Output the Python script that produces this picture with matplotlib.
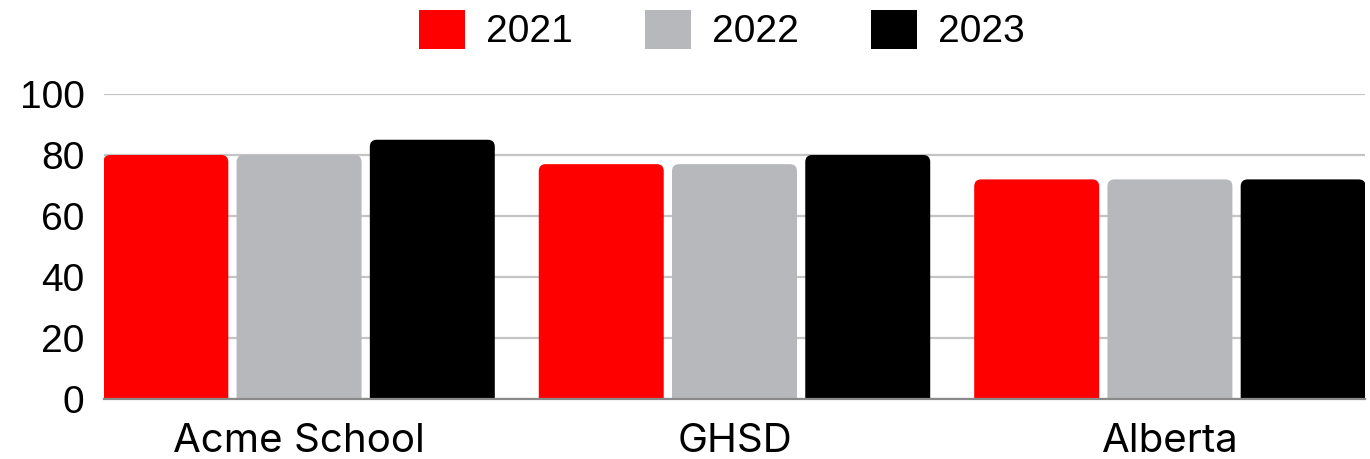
import numpy as np
import matplotlib
matplotlib.use('Agg')
import matplotlib.pyplot as plt
from matplotlib.patches import FancyBboxPatch, Patch

# data
categories = ['Acme School', 'GHSD', 'Alberta']
years = ['2021', '2022', '2023']
vals_2021 = [80, 77, 72]
vals_2022 = [80, 77, 72]
vals_2023 = [85, 80, 72]
colors = ['#ff0000', '#b7b8bb', '#000000']

plt.rcParams['font.family'] = ['Liberation Sans', 'DejaVu Sans']

W, H = 1370, 459
fig = plt.figure(figsize=(W / 100, H / 100), dpi=100)
ax = fig.add_axes([104 / W, 60 / H, 1261 / W, 305 / H])

x = np.arange(len(categories))
step = 0.306
bw = 0.287
series = [vals_2021, vals_2022, vals_2023]

ax.set_xlim(-0.448, 2.448)
ax.set_ylim(0, 100)

# pixel per data unit, for rounded corners
px_x = 1261 / 2.896
px_y = 305 / 100
r = 7 / px_x
aspect = px_x / px_y

for i, vals in enumerate(series):
    bars = ax.bar(x + (i - 1) * step, vals, bw, color=colors[i], alpha=0)
    for b in bars:
        p = FancyBboxPatch((b.get_x(), -10), b.get_width(), b.get_height() + 10,
                           boxstyle=f"round,pad=0,rounding_size={r}",
                           mutation_aspect=aspect, facecolor=colors[i],
                           edgecolor='none', zorder=3)
        ax.add_patch(p)

ax.set_yticks(np.arange(0, 101, 20))
ax.yaxis.grid(True, color='#c4c4c4', linewidth=1.6)
ax.set_axisbelow(True)
for s in ['top', 'right', 'left']:
    ax.spines[s].set_visible(False)
ax.spines['bottom'].set_color('#8a8a8a')
ax.spines['bottom'].set_linewidth(1.6)
ax.spines['bottom'].set_zorder(4)
ax.tick_params(axis='y', length=0, pad=14, labelsize=28)
ax.tick_params(axis='x', length=0, pad=17)
ax.set_xticks(x)
ax.set_xticklabels(categories, fontsize=29, family=['Inter', 'DejaVu Sans'])

handles = [Patch(facecolor=c, edgecolor='none') for c in colors]
fig.legend(handles, years, loc='center', bbox_to_anchor=(722 / W, 1 - 30 / H),
           ncol=3, frameon=False, fontsize=28, handlelength=1.18,
           handleheight=1.18, handletextpad=0.55, columnspacing=1.85)

fig.savefig('out.png', dpi=100)
